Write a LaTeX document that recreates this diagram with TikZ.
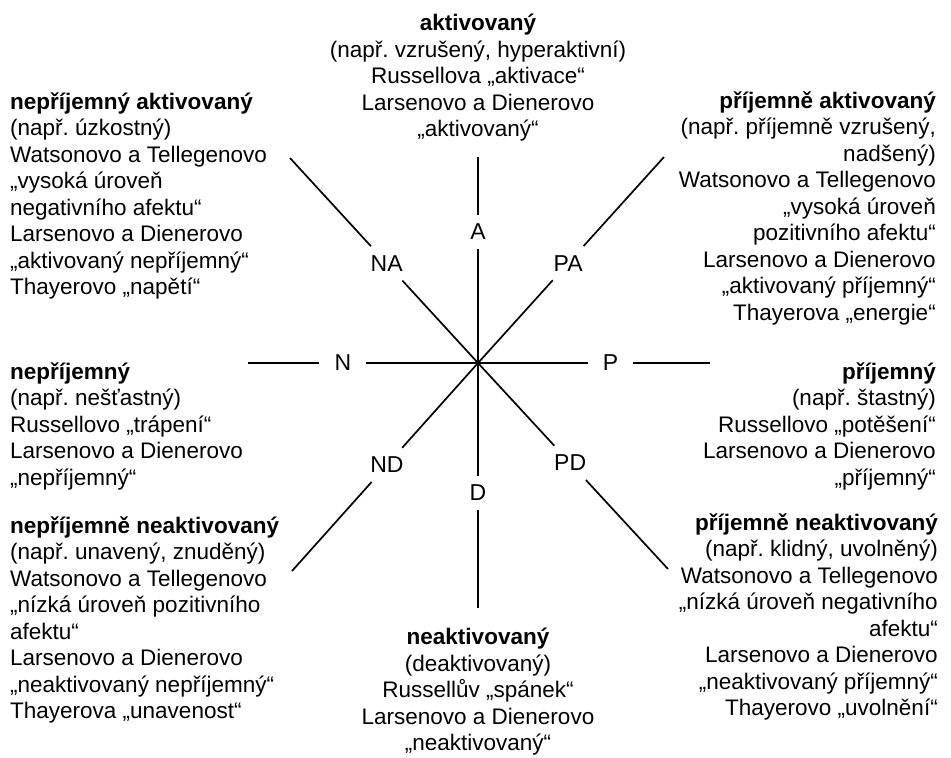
\documentclass[tikz,border=0pt]{standalone}
\usepackage{fontspec}
\setmainfont{Liberation Sans}
\usetikzlibrary{calc}
\frenchspacing
\begin{document}
\begin{tikzpicture}[x=1pt,y=-1pt,
  txt/.style={font=\fontsize{22.5}{26.5}\selectfont, inner sep=0pt},
  lbl/.style={font=\fontsize{23}{26.5}\selectfont, inner xsep=15pt, inner ysep=9pt},
  ln/.style={line width=1.7pt}]
\useasboundingbox (0,0) rectangle (951,758);
% centre and outer ends
\coordinate (C) at (478,363);
\coordinate (aEnd) at (478,157);
\coordinate (dEnd) at (478,608);
\coordinate (nEnd) at (248,363);
\coordinate (pEnd) at (710,363);
\coordinate (naEnd) at (290,158);
\coordinate (paEnd) at (664,157);
\coordinate (ndEnd) at (292,571);
\coordinate (pdEnd) at (668,569);
% axis labels
\node[lbl] (A) at ($(C)!0.636!(aEnd)$) {A};
\node[lbl] (D) at ($(C)!0.53!(dEnd)$) {D};
\node[lbl] (N) at ($(C)!0.587!(nEnd)$) {N};
\node[lbl] (P) at ($(C)!0.571!(pEnd)$) {P};
\node[lbl] (NA) at ($(C)!0.486!(naEnd)$) {NA};
\node[lbl] (PA) at ($(C)!0.485!(paEnd)$) {PA};
\node[lbl] (ND) at ($(C)!0.49!(ndEnd)$) {ND};
\node[lbl] (PD) at ($(C)!0.485!(pdEnd)$) {PD};
% spokes
\foreach \l/\e in {A/aEnd,D/dEnd,N/nEnd,P/pEnd,NA/naEnd,PA/paEnd,ND/ndEnd,PD/pdEnd}{
  \draw[ln] (C) -- (\l);
  \draw[ln] (\l) -- (\e);
}
% text blocks
\node[txt, anchor=north, align=center] (top) at (478,14)
  {\textbf{aktivovaný}\\(např. vzrušený, hyperaktivní)\\Russellova „aktivace“\\Larsenovo a Dienerovo\\„aktivovaný“};
\node[txt, anchor=north west, align=left] (tl) at (10,92)
  {\textbf{nepříjemný aktivovaný}\\(např. úzkostný)\\Watsonovo a Tellegenovo\\„vysoká úroveň\\negativního afektu“\\Larsenovo a Dienerovo\\„aktivovaný nepříjemný“\\Thayerovo „napětí“};
\node[txt, anchor=north east, align=right] (tr) at (936,91)
  {\textbf{příjemně aktivovaný}\\(např. příjemně vzrušený,\\nadšený)\\Watsonovo a Tellegenovo\\„vysoká úroveň\\pozitivního afektu“\\Larsenovo a Dienerovo\\„aktivovaný příjemný“\\Thayerova „energie“};
\node[txt, anchor=north west, align=left] (ml) at (10,362)
  {\textbf{nepříjemný}\\(např. nešťastný)\\Russellovo „trápení“\\Larsenovo a Dienerovo\\„nepříjemný“};
\node[txt, anchor=north east, align=right] (mr) at (936,362)
  {\textbf{příjemný}\\(např. štastný)\\Russellovo „potěšení“\\Larsenovo a Dienerovo\\„příjemný“};
\node[txt, anchor=north west, align=left] (bl) at (10,516)
  {\textbf{nepříjemně neaktivovaný}\\(např. unavený, znuděný)\\Watsonovo a Tellegenovo\\„nízká úroveň pozitivního\\afektu“\\Larsenovo a Dienerovo\\„neaktivovaný nepříjemný“\\Thayerova „unavenost“};
\node[txt, anchor=north east, align=right] (br) at (938,513)
  {\textbf{příjemně neaktivovaný}\\(např. klidný, uvolněný)\\Watsonovo a Tellegenovo\\„nízká úroveň negativního\\afektu“\\Larsenovo a Dienerovo\\„neaktivovaný příjemný“\\Thayerovo „uvolnění“};
\node[txt, anchor=north, align=center] (bc) at (478,628)
  {\textbf{neaktivovaný}\\(deaktivovaný)\\Russellův „spánek“\\Larsenovo a Dienerovo\\„neaktivovaný“};
\end{tikzpicture}
\end{document}
